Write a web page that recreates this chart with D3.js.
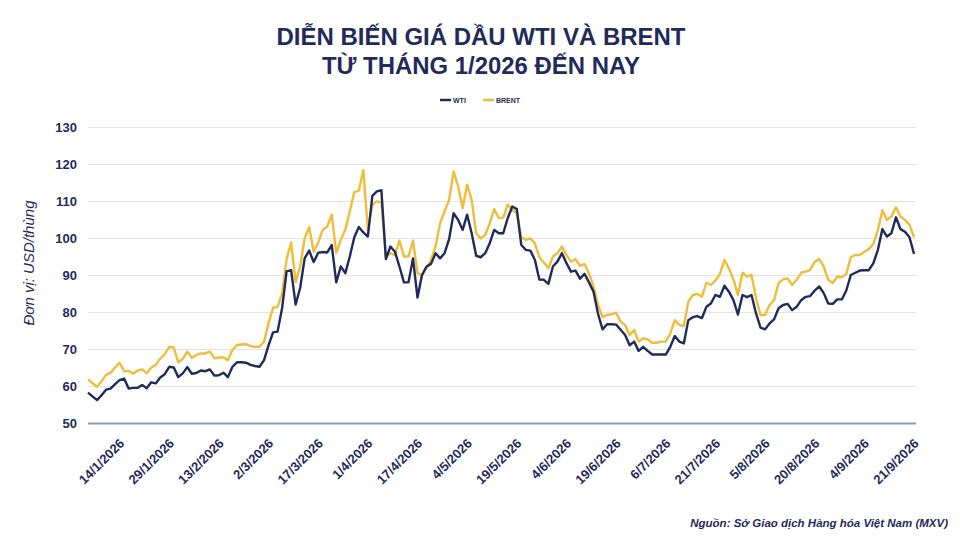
<!DOCTYPE html>
<html>
<head>
<meta charset="utf-8">
<script src="https://cdn.jsdelivr.net/npm/d3@7"></script>
<style>
  body { margin: 0; background: #fff; }
  text { font-family: "Liberation Sans", Arial, sans-serif; }
</style>
</head>
<body>
<div id="chart"></div>
<script>
// gia dau WTI va Brent, moi phien giao dich tu 5/1/2026 den 21/9/2026
const tickLabels = ['14/1/2026', '29/1/2026', '13/2/2026', '2/3/2026', '17/3/2026', '1/4/2026',
  '17/4/2026', '4/5/2026', '19/5/2026', '4/6/2026', '19/6/2026', '6/7/2026', '21/7/2026',
  '5/8/2026', '20/8/2026', '4/9/2026', '21/9/2026'];
const firstTick = 7;   // phien 14/1/2026
const tickStep = 11;   // moi nhan cach 11 phien

const wti = [
  58.2, 57.2, 56.2, 57.5, 59.0, 59.3, 60.5, 61.6, 62.0, 59.3,
  59.5, 59.5, 60.3, 59.4, 61.0, 60.7, 62.3, 63.2, 65.2, 65.0,
  62.4, 63.4, 65.1, 63.3, 63.5, 64.2, 64.0, 64.5, 62.8, 62.9,
  63.6, 62.4, 65.2, 66.4, 66.4, 66.3, 65.7, 65.4, 65.2, 67.0,
  71.0, 74.5, 74.7, 81.0, 91.0, 91.3, 82.0, 86.5, 94.5, 96.6,
  93.5, 96.0, 96.2, 96.1, 98.1, 88.0, 92.3, 90.5, 95.0, 100.2,
  103.0, 101.5, 100.4, 111.4, 112.6, 112.9, 94.3, 97.7, 96.3, 92.3,
  88.0, 88.0, 94.5, 83.9, 90.0, 92.3, 93.0, 95.9, 94.5, 95.9,
  99.7, 106.7, 104.9, 102.2, 106.3, 101.3, 95.2, 94.8, 95.9, 98.6,
  102.2, 101.3, 101.3, 105.4, 108.5, 107.8, 98.1, 96.8, 96.6, 94.1,
  88.8, 88.7, 87.6, 92.3, 93.6, 95.9, 93.2, 90.9, 91.2, 89.0,
  90.3, 88.0, 85.5, 79.5, 75.3, 76.7, 76.7, 76.6, 75.2, 73.8,
  71.0, 72.0, 69.5, 70.6, 69.5, 68.5, 68.5, 68.5, 68.5, 70.6,
  73.5, 72.0, 71.5, 77.8, 78.6, 78.9, 78.3, 81.4, 82.3, 84.6,
  84.1, 87.1, 85.5, 83.2, 79.3, 84.6, 84.0, 84.6, 79.6, 75.8,
  75.3, 76.9, 78.0, 81.0, 81.9, 82.2, 80.5, 81.4, 83.2, 84.1,
  84.3, 85.8, 86.9, 85.1, 82.3, 82.2, 83.4, 83.4, 85.8, 90.0,
  90.6, 91.2, 91.3, 91.3, 93.2, 96.8, 102.4, 100.4, 101.3, 105.6,
  102.4, 101.7, 100.2, 95.7
];

const brent = [
  61.8, 60.8, 59.8, 61.3, 63.0, 63.6, 65.0, 66.3, 64.0, 64.1,
  63.3, 64.2, 64.5, 63.4, 65.0, 65.7, 67.4, 68.6, 70.6, 70.4,
  66.4, 67.3, 69.3, 67.6, 68.4, 68.8, 68.8, 69.3, 67.5, 67.7,
  67.7, 67.0, 69.7, 71.1, 71.2, 71.3, 70.8, 70.6, 70.6, 72.0,
  77.0, 81.2, 81.3, 85.0, 94.3, 98.8, 88.0, 92.3, 100.0, 102.9,
  96.3, 98.8, 102.2, 103.1, 106.3, 96.0, 99.5, 102.2, 107.2, 112.4,
  112.8, 118.3, 102.2, 109.0, 109.9, 109.6, 94.8, 95.9, 95.4, 99.3,
  95.0, 95.0, 99.3, 90.5, 90.0, 91.8, 94.1, 97.7, 104.0, 107.2,
  110.3, 118.0, 113.9, 108.1, 114.4, 110.3, 101.3, 99.9, 100.8, 104.0,
  107.8, 105.4, 105.5, 109.0, 107.6, 106.7, 100.2, 99.5, 99.9, 98.6,
  94.8, 93.4, 91.8, 95.0, 95.9, 97.7, 95.4, 93.6, 94.3, 92.5,
  93.0, 90.4, 86.9, 82.0, 78.6, 79.2, 79.4, 79.8, 77.4, 76.5,
  73.8, 75.1, 72.0, 72.9, 72.6, 71.7, 71.7, 72.0, 72.0, 74.2,
  77.8, 76.5, 76.2, 82.8, 84.6, 84.9, 84.1, 87.9, 87.3, 88.5,
  90.3, 94.1, 91.8, 88.8, 84.6, 90.6, 89.6, 90.0, 83.7, 79.2,
  79.2, 81.9, 83.2, 87.8, 88.8, 89.1, 87.3, 88.7, 90.6, 90.9,
  91.4, 93.6, 94.3, 92.3, 88.7, 87.8, 89.6, 89.4, 90.3, 94.8,
  95.4, 95.4, 96.3, 97.0, 98.4, 102.2, 107.5, 104.9, 105.8, 108.3,
  105.8, 104.9, 103.6, 100.2
];

const yTicks = [50, 60, 70, 80, 90, 100, 110, 120, 130];

const navy = '#1f2b5b';
const gold = '#efbd3b';
const width = 960, height = 540;
const margin = { top: 127, right: 46, bottom: 117, left: 88 };

const svg = d3.select('#chart').append('svg')
  .attr('width', width)
  .attr('height', height)
  .attr('xmlns', 'http://www.w3.org/2000/svg');

// tieu de
svg.append('text')
  .attr('x', 481).attr('y', 45)
  .attr('text-anchor', 'middle')
  .attr('fill', navy)
  .style('font-size', '23px').style('font-weight', 'bold')
  .attr('textLength', 409).attr('lengthAdjust', 'spacingAndGlyphs')
  .text('DIỄN BIẾN GIÁ DẦU WTI VÀ BRENT');
svg.append('text')
  .attr('x', 481).attr('y', 74)
  .attr('text-anchor', 'middle')
  .attr('fill', navy)
  .style('font-size', '23px').style('font-weight', 'bold')
  .attr('textLength', 318).attr('lengthAdjust', 'spacingAndGlyphs')
  .text('TỪ THÁNG 1/2026 ĐẾN NAY');

const x = d3.scaleLinear()
  .domain([0, wti.length - 1])
  .range([margin.left, width - margin.right]);
const y = d3.scaleLinear()
  .domain([50, 130])
  .range([height - margin.bottom, margin.top]);

// luoi ngang
const grid = svg.append('g')
  .attr('transform', `translate(${margin.left},0)`)
  .call(d3.axisLeft(y).tickValues(yTicks).tickSize(-(width - margin.left - margin.right + 2)).tickFormat(''));
grid.select('.domain').remove();
grid.selectAll('.tick line')
  .attr('stroke', d => d === 50 ? '#8d97ad' : '#e3e3e3')
  .attr('stroke-width', d => d === 50 ? 2 : 1.2);

// nhan truc tung
const yAxis = svg.append('g')
  .attr('transform', `translate(${margin.left - 8},0)`)
  .call(d3.axisLeft(y).tickValues(yTicks).tickSize(0).tickFormat(d3.format('d')));
yAxis.select('.domain').remove();
yAxis.selectAll('text')
  .attr('fill', navy)
  .style('font-size', '13px').style('font-weight', 'bold')
  .style('font-family', '"Liberation Sans", Arial, sans-serif');

svg.append('text')
  .attr('transform', 'translate(34,263) rotate(-90)')
  .attr('text-anchor', 'middle')
  .attr('fill', navy)
  .style('font-size', '15px').style('font-style', 'italic')
  .text('Đơn vị: USD/thùng');

// nhan truc hoanh
const tickIdx = tickLabels.map((d, i) => firstTick + i * tickStep);
const xAxis = svg.append('g')
  .attr('transform', `translate(0,${height - margin.bottom})`)
  .call(d3.axisBottom(x).tickValues(tickIdx).tickSize(0)
    .tickFormat((d, i) => tickLabels[i]));
xAxis.select('.domain').remove();
xAxis.selectAll('text')
  .attr('fill', navy)
  .attr('text-anchor', 'end')
  .attr('dy', 0)
  .attr('transform', 'translate(3,19) rotate(-45)')
  .style('font-size', '13px').style('font-weight', 'bold')
  .style('font-family', '"Liberation Sans", Arial, sans-serif');

// duong gia
const line = d3.line()
  .x((d, i) => x(i))
  .y(d => y(d));

svg.append('path')
  .datum(brent)
  .attr('fill', 'none')
  .attr('stroke', gold)
  .attr('stroke-width', 2.4)
  .attr('stroke-linejoin', 'round')
  .attr('d', line);

svg.append('path')
  .datum(wti)
  .attr('fill', 'none')
  .attr('stroke', navy)
  .attr('stroke-width', 2.4)
  .attr('stroke-linejoin', 'round')
  .attr('d', line);

// chu giai
const legend = svg.append('g').attr('transform', 'translate(440,100)');
[['WTI', navy, 0], ['BRENT', gold, 43]].forEach(([name, color, dx]) => {
  legend.append('line')
    .attr('x1', dx).attr('x2', dx + 11)
    .attr('stroke', color).attr('stroke-width', 2.5);
  legend.append('text')
    .attr('x', dx + 13).attr('y', 2.5)
    .attr('fill', navy)
    .style('font-size', '7px').style('font-weight', 'bold')
    .text(name);
});

// nguon
svg.append('text')
  .attr('x', 948).attr('y', 527)
  .attr('text-anchor', 'end')
  .attr('fill', navy)
  .style('font-size', '11.5px').style('font-style', 'italic').style('font-weight', 'bold')
  .text('Nguồn: Sở Giao dịch Hàng hóa Việt Nam (MXV)');
</script>
</body>
</html>
